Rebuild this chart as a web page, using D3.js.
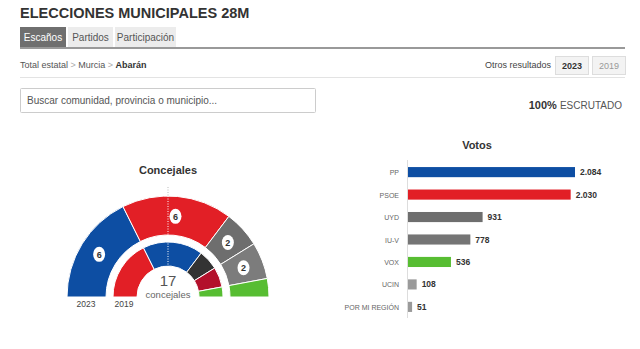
<!DOCTYPE html>
<html>
<head>
<meta charset="utf-8">
<script src="https://cdn.jsdelivr.net/npm/d3@7"></script>
<style>
  body { margin: 0; background: #fff; font-family: "Liberation Sans", Arial, sans-serif; }
  svg text { font-family: "Liberation Sans", Arial, sans-serif; }
</style>
</head>
<body>
<div id="content"></div>
<script>
var width = 640;
var height = 349;

// seats (outer ring 2023, inner ring 2019)
var seats2023 = [
  { party: 'PP', seats: 6, color: '#0d4ea3' },
  { party: 'PSOE', seats: 6, color: '#e21f26' },
  { party: 'UYD', seats: 2, color: '#6e6e6e' },
  { party: 'IU-V', seats: 2, color: '#7c7c7c' },
  { party: 'VOX', seats: 1, color: '#57bd32' }
];
var seats2019 = [
  { party: 'PSOE', seats: 6, color: '#e21f26' },
  { party: 'PP', seats: 6, color: '#0d4ea3' },
  { party: 'OTROS', seats: 2, color: '#333333' },
  { party: 'OTROS2', seats: 2, color: '#b3102b' },
  { party: 'VOX', seats: 1, color: '#57bd32' }
];

// votes
var parties = ['PP', 'PSOE', 'UYD', 'IU-V', 'VOX', 'UCIN', 'POR MI REGIÓN'];
var votes = [2084, 2030, 931, 778, 536, 108, 51];
var voteColors = ['#0d4ea3', '#e21f26', '#6e6e6e', '#757575', '#57bd32', '#9a9a9a', '#9a9a9a'];

var tabs = ['Escaños', 'Partidos', 'Participación'];
var crumbs = ['Total estatal', 'Murcia', 'Abarán'];

var svg = d3.select('div#content').append('svg')
    .attr('width', width)
    .attr('height', height);

// header
svg.append('text')
    .attr('x', 20).attr('y', 18)
    .attr('font-size', 14.5).attr('font-weight', 'bold').attr('fill', '#333')
    .text('ELECCIONES MUNICIPALES 28M');

var tabX = [20, 68, 115];
var tabW = [46, 45, 61];
tabs.forEach(function(t, i){
    svg.append('rect')
        .attr('x', tabX[i]).attr('y', 27).attr('width', tabW[i]).attr('height', 21)
        .attr('fill', i === 0 ? '#6f6f6f' : '#ececec');
    svg.append('text')
        .attr('x', tabX[i] + tabW[i]/2).attr('y', 41)
        .attr('text-anchor', 'middle').attr('font-size', 10)
        .attr('fill', i === 0 ? '#fff' : '#555')
        .text(t);
});
svg.append('rect').attr('x', 20).attr('y', 47).attr('width', 605).attr('height', 2).attr('fill', '#999');

// breadcrumb
var bc = svg.append('text').attr('x', 20).attr('y', 68).attr('font-size', 9).attr('fill', '#555');
crumbs.forEach(function(c, i){
    bc.append('tspan').attr('font-weight', i === 2 ? 'bold' : 'normal')
        .attr('fill', i === 2 ? '#333' : '#555').text(c);
    if (i < 2) bc.append('tspan').attr('fill', '#aaa').text('  >  ');
});
svg.append('line').attr('x1', 20).attr('x2', 625).attr('y1', 77.5).attr('y2', 77.5)
    .attr('stroke', '#e3e3e3');

svg.append('text').attr('x', 551).attr('y', 68).attr('text-anchor', 'end')
    .attr('font-size', 9).attr('fill', '#444').text('Otros resultados');
[['2023', 555, '#333', 'bold'], ['2019', 592, '#999', 'normal']].forEach(function(b){
    svg.append('rect').attr('x', b[1] + 0.5).attr('y', 56.5).attr('width', 33).attr('height', 18)
        .attr('fill', '#f3f3f3').attr('stroke', '#ddd');
    svg.append('text').attr('x', b[1] + 17).attr('y', 69).attr('text-anchor', 'middle')
        .attr('font-size', 9).attr('font-weight', b[3]).attr('fill', b[2]).text(b[0]);
});

// search box
svg.append('rect').attr('x', 20.5).attr('y', 88.5).attr('width', 295).attr('height', 24)
    .attr('fill', '#fff').attr('stroke', '#ccc').attr('rx', 1);
svg.append('text').attr('x', 27).attr('y', 104).attr('font-size', 10).attr('fill', '#555')
    .text('Buscar comunidad, provincia o municipio...');

var esc = svg.append('text').attr('x', 622).attr('y', 109).attr('text-anchor', 'end');
esc.append('tspan').attr('font-size', 11).attr('font-weight', 'bold').attr('fill', '#333').text('100% ');
esc.append('tspan').attr('font-size', 10).attr('fill', '#555').text('ESCRUTADO');

// hemicycle
var cx = 168, cy = 297;
var hemi = svg.append('g').attr('transform', 'translate(' + cx + ',' + cy + ')');

svg.append('text').attr('x', cx).attr('y', 174).attr('text-anchor', 'middle')
    .attr('font-size', 11).attr('font-weight', 'bold').attr('fill', '#333').text('Concejales');

var pie = d3.pie().sort(null).value(function(d){ return d.seats; })
    .startAngle(-Math.PI/2).endAngle(Math.PI/2);

var outerArc = d3.arc().innerRadius(62).outerRadius(101);
var innerArc = d3.arc().innerRadius(31).outerRadius(55);

hemi.selectAll('path.outer').data(pie(seats2023)).enter()
    .append('path').attr('class', 'outer')
    .attr('d', outerArc)
    .attr('fill', function(d){ return d.data.color; })
    .attr('stroke', '#fff').attr('stroke-width', 1);

hemi.selectAll('path.inner').data(pie(seats2019)).enter()
    .append('path').attr('class', 'inner')
    .attr('d', innerArc)
    .attr('fill', function(d){ return d.data.color; })
    .attr('stroke', '#fff').attr('stroke-width', 1);

// dotted center line
hemi.append('line').attr('x1', 0).attr('x2', 0).attr('y1', -110).attr('y2', -101)
    .attr('stroke', '#bbb').attr('stroke-dasharray', '1,1.5');
hemi.append('line').attr('x1', 0).attr('x2', 0).attr('y1', -101).attr('y2', -25)
    .attr('stroke', '#fff').attr('stroke-dasharray', '1,1.5');

var labelArc = d3.arc().innerRadius(81).outerRadius(81);
var lbl = hemi.selectAll('g.lbl').data(pie(seats2023).filter(function(d){ return d.data.seats > 1; }))
    .enter().append('g').attr('class', 'lbl')
    .attr('transform', function(d){ return 'translate(' + labelArc.centroid(d) + ')'; });
lbl.append('ellipse').attr('rx', 6).attr('ry', 7.5).attr('fill', '#fff');
lbl.append('text').attr('y', 3.5).attr('text-anchor', 'middle')
    .attr('font-size', 9).attr('font-weight', 'bold').attr('fill', '#333')
    .text(function(d){ return d.data.seats; });

var total = d3.sum(seats2023, function(d){ return d.seats; });
hemi.append('text').attr('y', -11).attr('text-anchor', 'middle')
    .attr('font-size', 15).attr('fill', '#555').text(total);
hemi.append('text').attr('y', 1).attr('text-anchor', 'middle')
    .attr('font-size', 9.5).attr('fill', '#666').text('concejales');

hemi.append('text').attr('x', -82).attr('y', 10).attr('text-anchor', 'middle')
    .attr('font-size', 8.5).attr('fill', '#444').text('2023');
hemi.append('text').attr('x', -44).attr('y', 10).attr('text-anchor', 'middle')
    .attr('font-size', 8.5).attr('fill', '#444').text('2019');

// votes bars
var x0 = 408;
var x = d3.scaleLinear().domain([0, 2084]).range([0, 167]);
var y = d3.scaleBand().domain(parties).range([161, 318]).paddingInner(0.55).paddingOuter(0.27);

svg.append('text').attr('x', 477).attr('y', 149).attr('text-anchor', 'middle')
    .attr('font-size', 11).attr('font-weight', 'bold').attr('fill', '#333').text('Votos');

svg.append('line').attr('x1', x0 - 0.5).attr('x2', x0 - 0.5).attr('y1', 160).attr('y2', 318)
    .attr('stroke', '#ddd');

var g = svg.append('g').attr('transform', 'translate(' + x0 + ',0)');
g.selectAll('rect.bar').data(parties).enter().append('rect').attr('class', 'bar')
    .attr('x', 0).attr('y', function(d){ return y(d); })
    .attr('width', function(d, i){ return x(votes[i]); })
    .attr('height', y.bandwidth())
    .attr('fill', function(d, i){ return voteColors[i]; });

g.selectAll('text.val').data(parties).enter().append('text').attr('class', 'val')
    .attr('x', function(d, i){ return x(votes[i]) + 5; })
    .attr('y', function(d){ return y(d) + y.bandwidth()/2 + 3; })
    .attr('font-size', 8.5).attr('font-weight', 'bold').attr('fill', '#333')
    .text(function(d, i){ return d3.format(',')(votes[i]).replace(',', '.'); });

g.selectAll('text.lab').data(parties).enter().append('text').attr('class', 'lab')
    .attr('x', -9)
    .attr('y', function(d){ return y(d) + y.bandwidth()/2 + 3; })
    .attr('text-anchor', 'end')
    .attr('font-size', 7).attr('fill', '#666')
    .text(function(d){ return d; });
</script>
</body>
</html>
